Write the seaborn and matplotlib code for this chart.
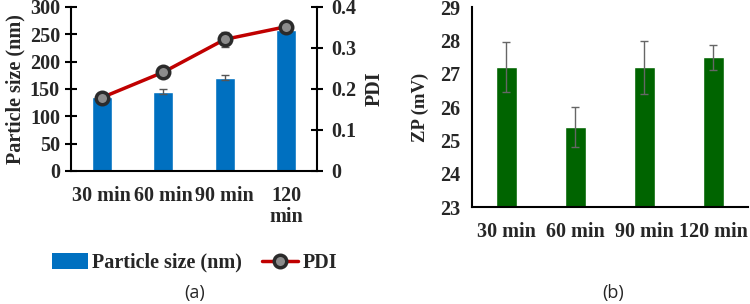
import matplotlib
matplotlib.use("Agg")
import matplotlib.pyplot as plt
import seaborn as sns
import pandas as pd
import numpy as np
from matplotlib.lines import Line2D
from matplotlib.patches import Patch

categories = ["30 min", "60 min", "90 min", "120 min"]
left_labels = ["30 min", "60 min", "90 min", "120\nmin"]
particle_size = [135, 145, 171, 258]
particle_err = [5, 5, 5, 5]
pdi = [0.179, 0.241, 0.321, 0.352]
pdi_err = [0.008, 0.008, 0.018, 0.01]
zp = [27.2, 25.4, 27.2, 27.5]
zp_err = [0.75, 0.6, 0.8, 0.37]

sns.set_theme(style="white")
plt.rcParams['font.family'] = ['Liberation Serif', 'DejaVu Serif']
FS = 14.5

fig = plt.figure(figsize=(7.5, 3.04), dpi=100)
axA = fig.add_axes([0.0947, 0.4375, 0.328, 0.5395])
axB = fig.add_axes([0.629, 0.319, 0.368, 0.657])

blue = "#0070C0"
green = "#006400"
red = "#C00000"

dfA = pd.DataFrame({"cat": categories, "size": particle_size})
sns.barplot(data=dfA, x="cat", y="size", color=blue, width=0.33, ax=axA,
            saturation=1, errorbar=None)
axA.errorbar(np.arange(4), particle_size, yerr=particle_err, fmt="none",
             ecolor="#555555", elinewidth=1, capsize=3)
axA.set_ylim(0, 300)
axA.set_yticks(range(0, 301, 50))
axA.set_xlim(-0.5, 3.5)
axA.set_xlabel("")
axA.set_ylabel("Particle size (nm)", fontsize=FS, fontweight="bold", labelpad=3)

ax2 = axA.twinx()
ax2.plot(np.arange(4), pdi, color=red, lw=2.5, zorder=3)
ax2.errorbar(np.arange(4), pdi, yerr=pdi_err, fmt="none", ecolor="#555555",
             elinewidth=1, capsize=3, zorder=4)
ax2.plot(np.arange(4), pdi, ls="none", marker="o", ms=9, mfc="#8c8c8c",
         mec="#2b2b2b", mew=2.5, zorder=5)
ax2.set_ylim(0, 0.4)
ax2.set_yticks([0, 0.1, 0.2, 0.3, 0.4])
ax2.set_yticklabels(["0", "0.1", "0.2", "0.3", "0.4"])
ax2.set_ylabel("PDI", fontsize=FS, fontweight="bold", rotation=90, labelpad=6)
ax2.set_xlim(-0.5, 3.5)

dfB = pd.DataFrame({"cat": categories, "zp": zp})
sns.barplot(data=dfB, x="cat", y="zp", color=green, width=0.31, ax=axB,
            saturation=1, errorbar=None)
axB.errorbar(np.arange(4), zp, yerr=zp_err, fmt="none", ecolor="#666666",
             elinewidth=1, capsize=3)
axB.set_ylim(23, 29)
axB.set_yticks(range(23, 30))
axB.set_xlim(-0.5, 3.5)
axB.set_xlabel("")
axB.set_ylabel("ZP (mV)", fontsize=FS - 1, fontweight="bold", labelpad=8)

for ax, labels in ((axA, left_labels), (axB, categories)):
    ax.set_xticks(np.arange(-0.5, 3.6, 1))
    ax.set_xticklabels([])
    ax.set_xticks(np.arange(4), minor=True)
    ax.set_xticklabels(labels, minor=True, fontsize=FS, fontweight="bold",
                       linespacing=1.05)
    ax.tick_params(axis="x", which="major", direction="inout", length=8, width=1.5, color="black")
    ax.tick_params(axis="x", which="minor", length=0, pad=11)
    ax.tick_params(axis="y", direction="inout", length=8, width=1.5, color="black",
                   labelsize=FS, pad=4)
    for lbl in ax.get_yticklabels():
        lbl.set_fontweight("bold")
    ax.spines["top"].set_visible(False)
    ax.spines["right"].set_visible(False)
    ax.spines["left"].set_linewidth(1.5)
    ax.spines["bottom"].set_linewidth(1.5)
    ax.spines["left"].set_color("black")
    ax.spines["bottom"].set_color("black")

ax2.spines["top"].set_visible(False)
ax2.spines["left"].set_visible(False)
ax2.spines["bottom"].set_visible(False)
ax2.spines["right"].set_visible(True)
ax2.spines["right"].set_linewidth(1.5)
ax2.spines["right"].set_color("black")
ax2.tick_params(axis="y", direction="inout", length=8, width=1.5, color="black",
                labelsize=FS, pad=6)
for lbl in ax2.get_yticklabels():
    lbl.set_fontweight("bold")

handles = [Patch(facecolor=blue, edgecolor="none"),
           Line2D([], [], color=red, lw=2.5, marker="o", ms=9, mfc="#8c8c8c",
                  mec="#2b2b2b", mew=2.5)]
fig.legend(handles, ["Particle size (nm)", "PDI"], loc="center",
           bbox_to_anchor=(0.259, 0.135), ncol=2, frameon=False,
           prop={"size": FS, "weight": "bold"}, handlelength=1.8,
           handleheight=0.8, columnspacing=1.0, handletextpad=0.2)

fig.text(0.26, 0.035, "(a)", ha="center", va="center", fontsize=13,
         fontweight="normal", family=["Open Sans", "DejaVu Sans"])
fig.text(0.817, 0.035, "(b)", ha="center", va="center", fontsize=13,
         fontweight="normal", family=["Open Sans", "DejaVu Sans"])

fig.savefig("out.png", dpi=100)
